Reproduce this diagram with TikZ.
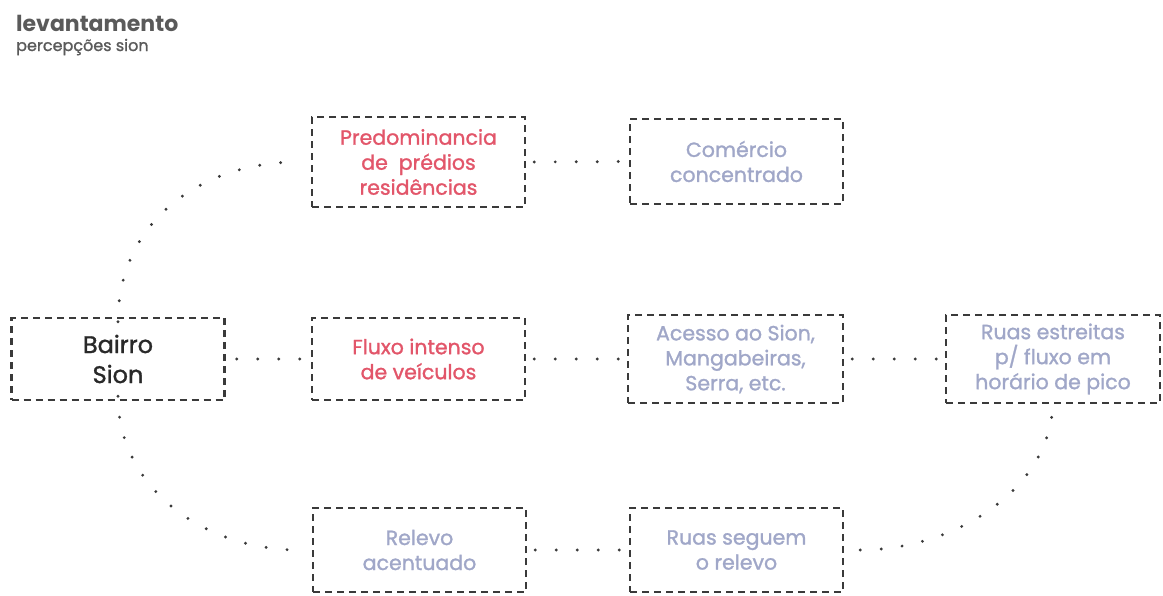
\documentclass[tikz,border=0pt]{standalone}
\usepackage{fontspec}
\setmainfont{Poppins}
\newfontfamily\medfont{Poppins}[FakeBold=1.3]
\begin{document}
\begin{tikzpicture}[x=1pt,y=-1pt,
  box/.style={draw=boxc, line width=2.5pt, dash pattern=on 7pt off 5pt, minimum width=213pt, align=center, font=\medfont\fontsize{20.5}{25}\selectfont, inner sep=0pt},
  red/.style={text=redc},
  lav/.style={text=lavc},
  dotline/.style={draw=boxc, line width=3.2pt, line cap=round, dash pattern=on 0pt off 21pt}
]
\definecolor{boxc}{HTML}{3A3A3A}
\definecolor{redc}{HTML}{E2566A}
\definecolor{lavc}{HTML}{A0A7C8}
\definecolor{titc}{HTML}{5A5A5A}
\useasboundingbox (0,0) rectangle (1163,595);
\node[anchor=west, text=titc, font=\bfseries\fontsize{22}{24}\selectfont, inner sep=0pt] (t1) at (16,23) {levantamento};
\node[anchor=west, text=titc, font=\medfont\fontsize{16}{18}\selectfont, inner sep=0pt] (t2) at (16,47) {percepções sion};

\node[box, red, minimum height=90pt] (pred) at (418.5,162) {Predominancia\\de\ \ prédios\\residências};
\node[box, lav, minimum height=85pt] (com) at (736.5,161.5) {Comércio\\concentrado};
\node[box, text=boxc!70!black, minimum height=82pt, font=\medfont\fontsize{24}{30}\selectfont] (bai) at (118,359) {Bairro\\Sion};
\node[box, red, minimum height=82pt] (flu) at (418.5,359) {Fluxo intenso\\de veículos};
\node[box, lav, minimum height=88pt, minimum width=215pt] (ace) at (735.5,359) {Acesso ao Sion,\\Mangabeiras,\\Serra, etc.};
\node[box, lav, minimum height=88pt, minimum width=214pt] (rue) at (1053,359) {Ruas estreitas\\p/ fluxo em\\horário de pico};
\node[box, lav, minimum height=84pt] (rel) at (419.5,550) {Relevo\\acentuado};
\node[box, lav, minimum height=84pt] (rsg) at (736.5,550) {Ruas seguem\\o relevo};

\draw[dotline, shorten <=11pt, shorten >=11pt] (bai.east) -- (flu.west);
\draw[dotline, shorten <=8pt, shorten >=8pt] (flu.east) -- (ace.west);
\draw[dotline, shorten <=8pt, shorten >=6pt] (ace.east) -- (rue.west);
\draw[dotline, shorten <=8pt, shorten >=6pt] (pred.east) -- (com.west);
\draw[dotline, shorten <=8pt, shorten >=6pt] (rel.east) -- (rsg.west);

\draw[dotline, shorten <=-5pt, shorten >=12pt] (bai.north) .. controls +(0,-95) and +(-110,0) .. (pred.west);
\draw[dotline, shorten <=-5pt, shorten >=12pt] (bai.south) .. controls +(0,85) and +(-110,0) .. (rel.west);
\draw[dotline, shorten <=16pt, shorten >=-5pt] (rsg.east) .. controls +(110,0) and +(0,85) .. (rue.south);
\end{tikzpicture}
\end{document}
